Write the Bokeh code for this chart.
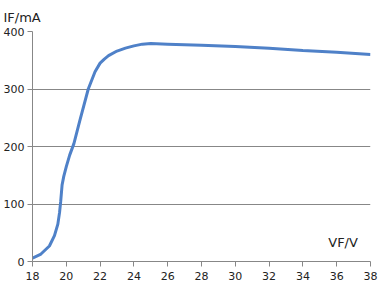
from bokeh.plotting import figure
from bokeh.models import Range1d, Label, FixedTicker
from bokeh.embed import file_html
from bokeh.resources import INLINE

vf = [18, 18.5, 19, 19.3, 19.5, 19.6, 19.67, 19.75, 19.85, 20, 20.2, 20.45, 20.8, 21.3, 21.7, 22, 22.25, 22.5, 23, 23.5, 24, 24.5, 25, 26, 28, 30, 32, 34, 36, 38]
if_ma = [6, 13, 27, 45, 65, 85, 105, 133, 148, 165, 185, 205, 245, 300, 330, 345, 352, 358, 366, 371, 375, 378, 379, 378, 376, 374, 371, 367, 364, 360]
x_ticks = [18, 20, 22, 24, 26, 28, 30, 32, 34, 36, 38]
y_ticks = [0, 100, 200, 300, 400]

p = figure(width=383, height=291, output_backend="svg", toolbar_location=None,
           x_range=Range1d(18, 38), y_range=Range1d(0, 400),
           min_border_left=32, min_border_right=13, min_border_top=31, min_border_bottom=30,
           title="IF/mA")
p.outline_line_color = None
p.background_fill_color = "white"
p.border_fill_color = "white"

p.title.align = "left"
p.title.offset = -29
p.title.standoff = 14
p.title.text_font = "DejaVu Sans"
p.title.text_font_size = "13px"
p.title.text_font_style = "normal"
p.title.text_color = "#222222"
p.title.text_line_height = 1.0

p.line(vf, if_ma, line_color="#4f81c8", line_width=3)

p.xgrid.visible = False
p.ygrid.ticker = FixedTicker(ticks=y_ticks)
p.ygrid.grid_line_color = "#878787"
p.ygrid.grid_line_width = 1

for ax in (p.xaxis[0], p.yaxis[0]):
    ax.axis_line_color = "#878787"
    ax.major_tick_line_color = "#878787"
    ax.major_tick_in = 0
    ax.major_tick_out = 5
    ax.minor_tick_line_color = None
    ax.major_label_text_font = "DejaVu Sans"
    ax.major_label_text_font_size = "11px"
    ax.major_label_text_color = "#222222"

p.xaxis.ticker = FixedTicker(ticks=x_ticks)
p.yaxis.ticker = FixedTicker(ticks=y_ticks)
p.xaxis.major_label_standoff = 5
p.yaxis.major_label_standoff = 3

p.add_layout(Label(x=35.5, y=20, text="VF/V",
                   text_font="DejaVu Sans", text_font_size="13px", text_color="#222222"))

open("out.html", "w").write(file_html(p, INLINE))
